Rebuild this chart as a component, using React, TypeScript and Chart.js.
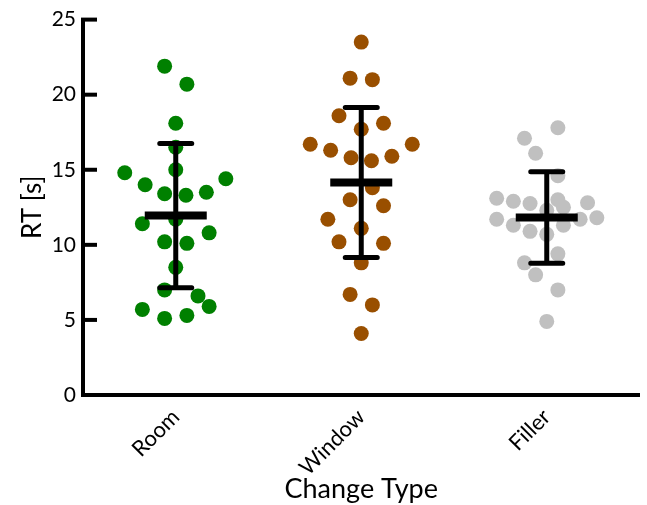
import React, { useEffect, useRef } from "react";
import { Chart, registerables } from "chart.js";

Chart.register(...registerables);

const categories = ["Room", "Window", "Filler"];

const roomRT = [21.9, 20.7, 18.1, 16.5, 15.0, 14.8, 14.4, 14.0, 13.4, 13.3, 13.5, 11.7, 11.4, 10.8, 10.2, 10.1, 8.5, 7.0, 6.6, 5.7, 5.9, 5.1, 5.3];
const roomJitter = [-0.06, 0.06, 0, 0, 0, -0.275, 0.27, -0.165, -0.06, 0.055, 0.165, 0, -0.18, 0.18, -0.06, 0.06, 0, -0.06, 0.12, -0.18, 0.18, -0.06, 0.06];

const windowRT = [23.5, 21.1, 21.0, 18.6, 18.1, 17.7, 16.7, 16.7, 16.3, 15.8, 15.6, 15.9, 13.8, 13.0, 12.6, 11.7, 11.1, 10.2, 10.1, 8.8, 6.7, 6.0, 4.1];
const windowJitter = [0, -0.06, 0.06, -0.12, 0.12, 0, -0.275, 0.275, -0.165, -0.055, 0.055, 0.165, 0.06, -0.06, 0.12, -0.18, 0, -0.12, 0.12, 0, -0.06, 0.06, 0];

const fillerRT = [17.8, 17.1, 16.1, 14.6, 13.1, 12.9, 12.75, 13.0, 12.5, 12.8, 12.3, 11.7, 11.3, 11.3, 11.7, 11.8, 10.9, 10.7, 9.4, 8.8, 8.0, 7.0, 4.9];
const fillerJitter = [0.06, -0.12, -0.06, 0.06, -0.27, -0.18, -0.09, 0.06, 0.09, 0.22, 0, -0.27, -0.18, 0.09, 0.18, 0.27, -0.09, 0, 0.06, -0.12, -0.06, 0.06, 0];

const groupMeans = [11.95, 14.15, 11.82];
const groupSD = [4.8, 5.0, 3.05];

const groupColors = ["#008000", "#994F00", "#C0C0C0"];

const yTicks = [0, 5, 10, 15, 20, 25];

const FONT = "Lato, 'Open Sans', sans-serif";

function makePoints(values: number[], jitter: number[], idx: number) {
  return values.map((v, i) => ({ x: idx + (jitter[i] || 0), y: v }));
}

const meanSdPlugin = {
  id: "meanSd",
  afterDatasetsDraw(chart: any) {
    const { ctx, scales, chartArea } = chart;
    const xs = scales.x;
    const ys = scales.y;
    ctx.save();
    ctx.strokeStyle = "#000";
    ctx.lineWidth = 4;
    ctx.lineCap = "butt";
    yTicks.forEach((t) => {
      if (t === 0) return;
      const py = ys.getPixelForValue(t);
      ctx.beginPath();
      ctx.moveTo(chartArea.left - 2, py);
      ctx.lineTo(chartArea.left + 14, py);
      ctx.stroke();
    });
    categories.forEach((_, i) => {
      const cx = xs.getPixelForValue(i);
      const m = ys.getPixelForValue(groupMeans[i]);
      const hi = ys.getPixelForValue(groupMeans[i] + groupSD[i]);
      const lo = ys.getPixelForValue(groupMeans[i] - groupSD[i]);
      ctx.lineCap = "butt";
      ctx.lineWidth = 5;
      ctx.beginPath();
      ctx.moveTo(cx, hi);
      ctx.lineTo(cx, lo);
      ctx.stroke();
      ctx.lineCap = "round";
      ctx.beginPath();
      ctx.moveTo(cx - 16, hi);
      ctx.lineTo(cx + 16, hi);
      ctx.moveTo(cx - 16, lo);
      ctx.lineTo(cx + 16, lo);
      ctx.stroke();
      ctx.lineCap = "butt";
      ctx.lineWidth = 8;
      ctx.beginPath();
      ctx.moveTo(cx - 31, m);
      ctx.lineTo(cx + 31, m);
      ctx.stroke();
    });
    ctx.restore();
  },
};

export default function App() {
  const ref = useRef<HTMLCanvasElement | null>(null);
  useEffect(() => {
    if (!ref.current) return;
    const series = [
      makePoints(roomRT, roomJitter, 0),
      makePoints(windowRT, windowJitter, 1),
      makePoints(fillerRT, fillerJitter, 2),
    ];
    const chart = new Chart(ref.current, {
      type: "scatter",
      data: {
        datasets: series.map((pts, i) => ({
          label: categories[i],
          data: pts,
          backgroundColor: groupColors[i],
          borderWidth: 0,
          pointRadius: 7.5,
          pointHoverRadius: 7.5,
        })),
      },
      options: {
        responsive: false,
        animation: false,
        layout: { padding: { top: 18, right: 0, left: 0, bottom: 0 } },
        plugins: { legend: { display: false }, tooltip: { enabled: false } },
        scales: {
          x: {
            type: "linear",
            min: -0.5,
            max: 2.5,
            afterBuildTicks: (scale: any) => {
              scale.ticks = categories.map((_, i) => ({ value: i }));
            },
            afterFit: (scale: any) => {
              scale.height = 110;
            },
            grid: { display: false, drawTicks: false },
            border: { display: true, color: "#000", width: 4 },
            ticks: {
              minRotation: 45,
              maxRotation: 45,
              color: "#000",
              padding: 9,
              font: { family: FONT, size: 22 },
              callback: (v: any) => categories[Math.round(Number(v))] ?? "",
            },
            title: {
              display: true,
              text: "Change Type",
              color: "#000",
              font: { family: FONT, size: 27 },
              padding: { top: 0, bottom: 0 },
            },
          },
          y: {
            min: 0,
            max: 25,
            afterBuildTicks: (scale: any) => {
              scale.ticks = yTicks.map((v) => ({ value: v }));
            },
            afterFit: (scale: any) => {
              scale.width = 83;
            },
            grid: { display: false, drawTicks: false },
            border: { display: true, color: "#000", width: 4 },
            ticks: {
              color: "#000",
              padding: 7,
              font: { family: FONT, size: 21 },
            },
            title: {
              display: true,
              text: "RT [s]",
              color: "#000",
              font: { family: FONT, size: 26 },
              padding: { top: 17, bottom: 0 },
            },
          },
        },
      },
      plugins: [meanSdPlugin],
    } as any);
    return () => chart.destroy();
  }, []);
  return (
    <div style={{ position: "absolute", left: 0, top: 0, width: 647, height: 505, background: "#fff" }}>
      <canvas ref={ref} width={647} height={505} style={{ display: "block" }} />
    </div>
  );
}
